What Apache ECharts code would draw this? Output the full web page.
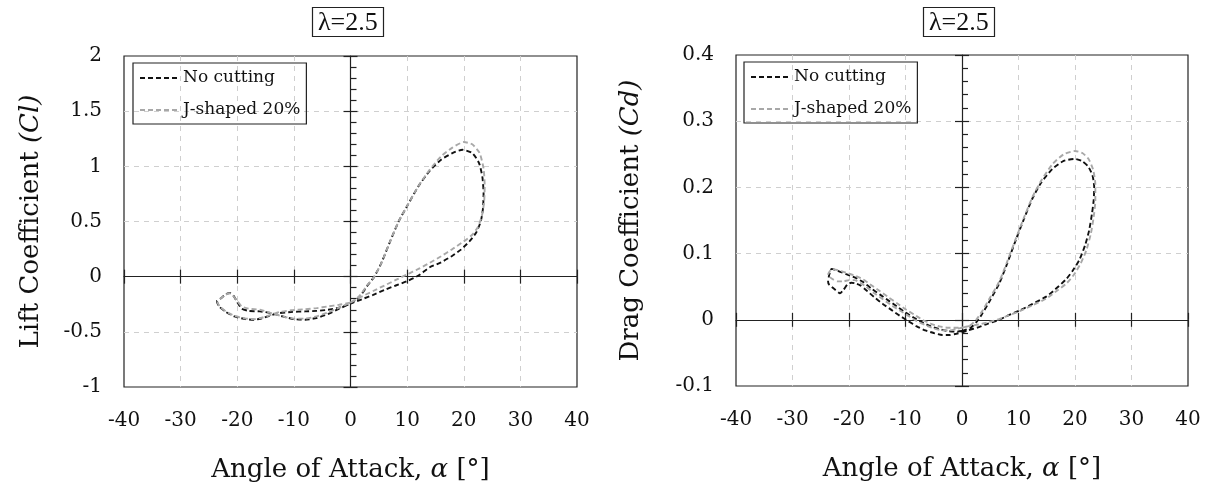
<!DOCTYPE html>
<html>
<head>
<meta charset="utf-8">
<script src="https://cdn.jsdelivr.net/npm/echarts@6/dist/echarts.min.js"></script>
<style>
html,body{margin:0;padding:0;background:#fff;}
#chart{width:1208px;height:488px;}
</style>
</head>
<body>
<div id="chart"></div>
<script>
// ---------- data ----------
const seriesNames = ['No cutting', 'J-shaped 20%'];
const panelTitle = 'λ=2.5';
const aoaTicks = [-40, -30, -20, -10, 0, 10, 20, 30, 40];
const clTicks = [-1, -0.5, 0, 0.5, 1, 1.5, 2];
const cdTicks = [-0.1, 0, 0.1, 0.2, 0.3, 0.4];

// Lift coefficient, No cutting
const aoaClNoCut = [0.0, 1.5, 3.0, 4.2, 5.5, 7.0, 8.5, 10.0, 12.0, 14.0, 16.0, 18.0, 19.8, 21.5, 22.7, 23.3, 23.5, 23.4, 23.0, 22.2, 21.0, 19.5, 18.0, 16.0, 14.0, 12.0, 10.0, 8.0, 6.0, 4.0, 2.0, 0.0, -2.0, -4.0, -6.0, -8.0, -10.0, -12.0, -14.0, -16.0, -18.0, -19.2, -20.0, -20.7, -21.3, -22.0, -23.0, -23.6, -23.2, -22.0, -20.5, -18.5, -17.0, -15.5, -14.0, -12.5, -10.5, -8.0, -6.0, -4.0, -2.0, -0.5, 0.0];
const clNoCut = [-0.245, -0.19, -0.08, 0.0, 0.13, 0.32, 0.50, 0.64, 0.82, 0.96, 1.06, 1.12, 1.15, 1.12, 1.03, 0.90, 0.75, 0.62, 0.50, 0.40, 0.32, 0.245, 0.19, 0.13, 0.085, 0.01, -0.04, -0.08, -0.12, -0.165, -0.205, -0.245, -0.29, -0.34, -0.375, -0.39, -0.385, -0.36, -0.33, -0.315, -0.31, -0.29, -0.23, -0.17, -0.148, -0.16, -0.20, -0.22, -0.27, -0.32, -0.36, -0.385, -0.39, -0.375, -0.35, -0.33, -0.32, -0.315, -0.31, -0.30, -0.28, -0.255, -0.245];

// Lift coefficient, J-shaped 20%
const aoaClJ = [0.0, 1.5, 3.0, 4.2, 5.5, 7.0, 8.5, 10.0, 12.0, 14.0, 16.0, 18.0, 20.0, 21.5, 22.8, 23.5, 23.7, 23.6, 23.2, 22.5, 21.5, 20.0, 18.0, 16.0, 14.0, 12.0, 10.0, 8.0, 6.0, 4.0, 2.0, 0.0, -2.0, -4.0, -6.0, -8.0, -10.0, -12.0, -14.0, -16.0, -18.0, -19.2, -20.0, -20.8, -21.4, -22.1, -23.0, -23.5, -23.1, -22.0, -20.5, -18.5, -17.0, -15.5, -14.0, -12.5, -10.5, -8.0, -6.0, -4.0, -2.0, -0.5, 0.0];
const clJ = [-0.235, -0.18, -0.075, 0.0, 0.13, 0.32, 0.50, 0.64, 0.82, 0.97, 1.09, 1.17, 1.22, 1.20, 1.12, 0.98, 0.82, 0.68, 0.55, 0.45, 0.38, 0.32, 0.25, 0.185, 0.125, 0.07, 0.02, -0.03, -0.08, -0.13, -0.18, -0.235, -0.28, -0.325, -0.36, -0.38, -0.38, -0.36, -0.33, -0.30, -0.29, -0.27, -0.22, -0.17, -0.15, -0.165, -0.20, -0.225, -0.27, -0.315, -0.355, -0.38, -0.385, -0.37, -0.345, -0.32, -0.305, -0.295, -0.285, -0.27, -0.255, -0.24, -0.235];

// Drag coefficient, No cutting
const aoaCdNoCut = [0.0, 1.5, 2.5, 3.5, 5.0, 6.6, 8.0, 9.5, 11.0, 12.5, 14.0, 16.0, 18.0, 19.9, 21.2, 22.3, 23.1, 23.4, 23.3, 23.0, 22.5, 21.8, 20.8, 19.5, 18.4, 16.5, 14.9, 12.5, 10.2, 8.0, 6.6, 4.5, 3.0, 1.0, 0.0, -1.0, -2.2, -3.5, -5.0, -6.5, -8.0, -9.5, -11.0, -12.5, -14.0, -15.5, -17.0, -18.0, -18.8, -19.6, -20.3, -21.0, -21.6, -22.4, -23.5, -23.7, -23.5, -23.1, -22.0, -20.5, -19.0, -17.5, -16.0, -14.5, -13.0, -11.5, -10.0, -8.5, -7.0, -5.5, -4.0, -2.5, -1.0, 0.0];
const cdNoCut = [-0.017, -0.012, -0.004, 0.008, 0.03, 0.055, 0.085, 0.12, 0.153, 0.184, 0.207, 0.228, 0.240, 0.243, 0.240, 0.232, 0.218, 0.200, 0.180, 0.160, 0.135, 0.113, 0.091, 0.073, 0.061, 0.046, 0.035, 0.024, 0.014, 0.006, 0.0, -0.006, -0.011, -0.016, -0.019, -0.021, -0.023, -0.023, -0.020, -0.016, -0.010, -0.002, 0.006, 0.015, 0.024, 0.034, 0.045, 0.052, 0.055, 0.056, 0.053, 0.045, 0.040, 0.045, 0.053, 0.058, 0.068, 0.077, 0.074, 0.069, 0.064, 0.057, 0.047, 0.038, 0.029, 0.020, 0.011, 0.003, -0.004, -0.010, -0.014, -0.017, -0.018, -0.017];

// Drag coefficient, J-shaped 20%
const aoaCdJ = [0.0, 1.5, 2.5, 3.5, 5.0, 6.6, 8.0, 9.5, 11.0, 12.5, 14.0, 16.0, 18.0, 20.0, 21.3, 22.4, 23.2, 23.6, 23.6, 23.3, 22.8, 22.0, 21.0, 19.8, 18.5, 16.5, 14.9, 12.5, 10.2, 8.0, 6.6, 4.5, 3.0, 1.0, 0.0, -1.0, -2.2, -3.5, -5.0, -6.5, -8.0, -9.5, -11.0, -12.5, -14.0, -15.5, -17.0, -18.0, -19.0, -20.0, -21.0, -22.0, -23.0, -23.7, -23.5, -23.1, -22.0, -20.5, -19.0, -17.5, -16.0, -14.5, -13.0, -11.5, -10.0, -8.5, -7.0, -5.5, -4.0, -2.5, -1.0, 0.0];
const cdJ = [-0.012, -0.008, 0.0, 0.012, 0.034, 0.058, 0.088, 0.122, 0.155, 0.186, 0.21, 0.235, 0.250, 0.255, 0.252, 0.243, 0.227, 0.205, 0.180, 0.155, 0.130, 0.105, 0.085, 0.068, 0.055, 0.042, 0.032, 0.022, 0.013, 0.006, 0.001, -0.004, -0.007, -0.010, -0.012, -0.014, -0.016, -0.016, -0.013, -0.008, -0.002, 0.006, 0.014, 0.022, 0.031, 0.040, 0.050, 0.056, 0.060, 0.060, 0.058, 0.058, 0.062, 0.068, 0.072, 0.076, 0.075, 0.071, 0.067, 0.061, 0.052, 0.043, 0.034, 0.025, 0.016, 0.008, 0.0, -0.006, -0.010, -0.012, -0.012, -0.012];

// ---------- helpers ----------
const zip = (xs, ys) => xs.map((x, i) => [x, ys[i]]);
const FONT = 'DejaVu Serif';
const INK = '#111';
const AXIS = '#222';
const GRIDLINE = { show: true, showMinLine: false, showMaxLine: false, lineStyle: { color: '#cfcfcf', type: [5, 5], width: 1 } };

function axesFor(gridIndex, yTicks, yName, yNameGap) {
  const xMin = aoaTicks[0], xMax = aoaTicks[aoaTicks.length - 1], xInt = aoaTicks[1] - aoaTicks[0];
  const yMin = yTicks[0], yMax = yTicks[yTicks.length - 1], yInt = +(yTicks[1] - yTicks[0]).toFixed(6);
  const xBase = { gridIndex, type: 'value', min: xMin, max: xMax, interval: xInt, position: 'bottom' };
  const yBase = { gridIndex, type: 'value', min: yMin, max: yMax, interval: yInt, position: 'left' };
  const xAxes = [
    Object.assign({}, xBase, {
      axisLine: { show: false, onZero: false },
      axisTick: { show: false },
      axisLabel: { margin: 24, fontFamily: FONT, fontSize: 20, color: INK },
      splitLine: GRIDLINE,
      name: 'Angle of Attack, {it|α} [°]',
      nameLocation: 'middle',
      nameGap: 70,
      nameTextStyle: { fontFamily: FONT, fontSize: 26, color: INK,
        rich: { it: { fontFamily: FONT, fontSize: 26, fontStyle: 'italic', color: INK } } }
    }),
    Object.assign({}, xBase, {
      axisLine: { show: true, onZero: true, lineStyle: { color: AXIS, width: 1.2 } },
      axisTick: { show: true, inside: true, length: 7, lineStyle: { color: AXIS, width: 1.2 } },
      axisLabel: { show: false }, splitLine: { show: false }
    }),
    Object.assign({}, xBase, {
      axisLine: { show: false, onZero: true },
      axisTick: { show: true, inside: false, length: 7, lineStyle: { color: AXIS, width: 1.2 } },
      axisLabel: { show: false }, splitLine: { show: false }
    })
  ];
  const yAxes = [
    Object.assign({}, yBase, {
      axisLine: { show: false, onZero: false },
      axisTick: { show: false },
      axisLabel: { margin: 22, fontFamily: FONT, fontSize: 20, color: INK },
      splitLine: GRIDLINE,
      name: yName,
      nameLocation: 'middle',
      nameGap: yNameGap,
      nameTextStyle: { fontFamily: FONT, fontSize: 26, color: INK,
        rich: { it: { fontFamily: FONT, fontSize: 26, fontStyle: 'italic', color: INK } } }
    }),
    Object.assign({}, yBase, {
      axisLine: { show: true, onZero: true, lineStyle: { color: AXIS, width: 1.2 } },
      axisTick: { show: true, inside: true, length: 7, lineStyle: { color: AXIS, width: 1.2 } },
      minorTick: { show: true, splitNumber: 5, length: 6, lineStyle: { color: AXIS, width: 1.2 } },
      axisLabel: { show: false }, splitLine: { show: false }
    }),
    Object.assign({}, yBase, {
      axisLine: { show: false, onZero: true },
      axisTick: { show: true, inside: false, length: 7, lineStyle: { color: AXIS, width: 1.2 } },
      axisLabel: { show: false }, splitLine: { show: false }
    })
  ];
  return { xAxes, yAxes };
}

const left = axesFor(0, clTicks, 'Lift Coefficient {it|(Cl)}', 80);
const right = axesFor(1, cdTicks, 'Drag Coefficient {it|(Cd)}', 92);

const lineBlack = { color: '#111', width: 1.9, type: [5, 3] };
const lineGray = { color: '#a8a8a8', width: 1.9, type: [5, 3] };

function mkSeries(name, data, xi, yi, style) {
  return { name, type: 'line', data, xAxisIndex: xi, yAxisIndex: yi, symbol: 'none',
    smooth: 0.2, lineStyle: style, itemStyle: { color: style.color }, z: 3, silent: true };
}

function mkLegend(l, t) {
  return {
    data: seriesNames, orient: 'vertical', left: l, top: t,
    borderColor: AXIS, borderWidth: 1.2, padding: [5, 6, 4, 6],
    itemWidth: 38, itemHeight: 14, itemGap: 12,
    itemStyle: { opacity: 0 },
    textStyle: { fontFamily: FONT, fontSize: 17, color: INK, lineHeight: 20 },
    selectedMode: false
  };
}

function mkTitle(l) {
  return {
    text: panelTitle, left: l, top: 7,
    borderColor: AXIS, borderWidth: 1.2, padding: [3, 6, 1, 6],
    textStyle: { fontFamily: 'Liberation Serif', fontSize: 26, fontWeight: 'normal', color: INK }
  };
}

const chart = echarts.init(document.getElementById('chart'), null, { renderer: 'canvas' });
chart.setOption({
  animation: false,
  backgroundColor: '#fff',
  title: [mkTitle(312), mkTitle(923)],
  legend: [mkLegend(133, 63), mkLegend(744, 62)],
  grid: [
    { left: 124, top: 56, width: 453, height: 332, show: true, borderColor: AXIS, borderWidth: 1.2 },
    { left: 736, top: 55, width: 452, height: 331, show: true, borderColor: AXIS, borderWidth: 1.2 }
  ],
  xAxis: left.xAxes.concat(right.xAxes),
  yAxis: left.yAxes.concat(right.yAxes),
  series: [
    mkSeries(seriesNames[0], zip(aoaClNoCut, clNoCut), 0, 0, lineBlack),
    mkSeries(seriesNames[1], zip(aoaClJ, clJ), 0, 0, lineGray),
    mkSeries(seriesNames[0], zip(aoaCdNoCut, cdNoCut), 3, 3, lineBlack),
    mkSeries(seriesNames[1], zip(aoaCdJ, cdJ), 3, 3, lineGray)
  ]
});
</script>
</body>
</html>
